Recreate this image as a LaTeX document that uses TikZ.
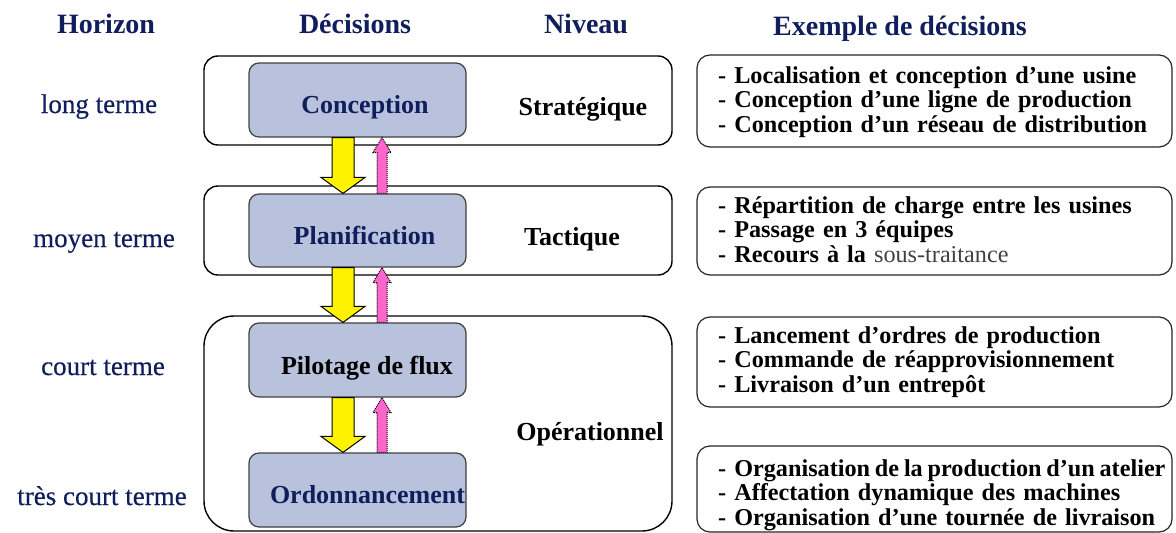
\documentclass[tikz,border=0pt]{standalone}
\usepackage{fontspec}
\setmainfont{Liberation Serif}
\newfontfamily\heavyserif[FakeBold=0.4]{Liberation Serif}
\usetikzlibrary{calc}

\definecolor{navy}{RGB}{16,30,92}
\definecolor{boxfill}{RGB}{185,194,221}
\definecolor{flowpink}{RGB}{255,102,204}

\tikzset{
  heading/.style={font=\fontsize{28}{30}\selectfont\bfseries, text=navy, inner sep=0, anchor=base},
  horizon/.style={font=\heavyserif\fontsize{27}{30}\selectfont, text=navy, inner sep=0, anchor=base},
  level/.style={draw=black, line width=1.4pt, rounded corners=14pt, minimum width=468pt, inner sep=0},
  levelname/.style={font=\fontsize{26}{28}\selectfont\bfseries, inner sep=0, anchor=base},
  decision/.style={draw=black!75, fill=boxfill, line width=1.2pt, rounded corners=10pt,
    minimum width=217pt, inner sep=0},
  decisiontext/.style={font=\fontsize{26}{28}\selectfont\bfseries, text=navy, inner sep=0, anchor=base},
  example/.style={draw=black!85, line width=1.2pt, rounded corners=13pt, minimum width=475pt, inner sep=0},
  exampletext/.style={font=\fontsize{24.2}{24.5}\selectfont\bfseries, inner sep=0, anchor=base west,
    text width=500pt, align=left},
  down flow/.style={draw=black, line width=1pt, fill=yellow},
  up flow/.style={draw=black, line width=1pt, densely dotted, fill=flowpink},
}

% Yellow downward arrow and dotted pink feedback arrow between two decision boxes
\newcommand\flowpair[2]{%
  \path[down flow] let \p1=(#1.south), \p2=(#2.north) in
    (\x1-25.5pt,\y1) -- (\x1-3.5pt,\y1) -- (\x1-3.5pt,\y2+16pt) -- (\x1+7.5pt,\y2+16pt)
    -- (\x1-14.5pt,\y2) -- (\x1-36.5pt,\y2+16pt) -- (\x1-25.5pt,\y2+16pt) -- cycle;
  \path[up flow] let \p1=(#1.south), \p2=(#2.north) in
    (\x1+19.5pt,\y2) -- (\x1+19.5pt,\y1-15pt) -- (\x1+15.5pt,\y1-15pt) -- (\x1+24.5pt,\y1)
    -- (\x1+33.5pt,\y1-15pt) -- (\x1+29.5pt,\y1-15pt) -- (\x1+29.5pt,\y2) -- cycle;
}

\begin{document}
\begin{tikzpicture}[x=1pt, y=-1pt]
\useasboundingbox (0,0) rectangle (1176,533);

% column headings
\node[heading] (h-horizon)  at (106,33) {Horizon};
\node[heading] (h-decision) at (355,33) {Décisions};
\node[heading] (h-level)    at (586,33) {Niveau};
\node[heading] (h-example)  at (900,35) {Exemple de décisions};

% time horizons
\node[horizon] (t-long)   at (99,113)  {long terme};
\node[horizon] (t-medium) at (104,247) {moyen terme};
\node[horizon] (t-short)  at (103,375) {court terme};
\node[horizon] (t-vshort) at (102,505) {très court terme};

% decision levels
\node[level, minimum height=89pt] (strategic) at (438,100.5) {};
\node[level, minimum height=89pt] (tactical)  at (438,230.5) {};
\node[level, minimum height=215pt, rounded corners=30pt] (operational) at (438,423.5) {};

\node[levelname] (strategic-name)   at (583,115) {Stratégique};
\node[levelname] (tactical-name)    at (572,245) {Tactique};
\node[levelname] (operational-name) at (590,440) {Opérationnel};

% decision boxes
\node[decision, minimum height=74pt] (conc)  at (357.5,100)   {};
\node[decision, minimum height=73pt] (plan)  at (357.5,230.5) {};
\node[decision, minimum height=74pt] (pilot) at (357.5,360)   {};
\node[decision, minimum height=74pt] (sched) at (357.5,490)   {};

\node[decisiontext] (conc-text)  at (365,113)   {Conception};
\node[decisiontext] (plan-text)  at (364.5,244) {Planification};
\node[decisiontext, text=black] (pilot-text) at (367,374) {Pilotage de flux};
\node[decisiontext] (sched-text) at (367.5,503) {Ordonnancement};

% examples of decisions
\node[example, minimum height=92pt] (ex1) at (934.5,101)   {};
\node[example, minimum height=88pt] (ex2) at (934.5,231)   {};
\node[example, minimum height=90pt] (ex3) at (934.5,362)   {};
\node[example, minimum height=86pt] (ex4) at (934.5,489)   {};

\node[exampletext] (ex1-text) at (718,83) {- Localisation et conception d’une usine\\
- Conception d’une ligne de production\\- Conception d’un réseau de distribution};
\node[exampletext] (ex2-text) at (718,213) {- Répartition de charge entre les usines\\
- Passage en 3 équipes\\- Recours à la {\mdseries\color{black!75}sous-traitance}};
\node[exampletext] (ex3-text) at (718,343) {- Lancement d’ordres de production\\
- Commande de réapprovisionnement\\- Livraison d’un entrepôt};
\node[exampletext] (ex4-text) at (718,476) {- {\spaceskip=0.2em\relax Organisation de la production d’un atelier}\\
- Affectation dynamique des machines\\- Organisation d’une tournée de livraison};

% flows between decision levels
\flowpair{conc}{plan}
\flowpair{plan}{pilot}
\flowpair{pilot}{sched}
\end{tikzpicture}
\end{document}
